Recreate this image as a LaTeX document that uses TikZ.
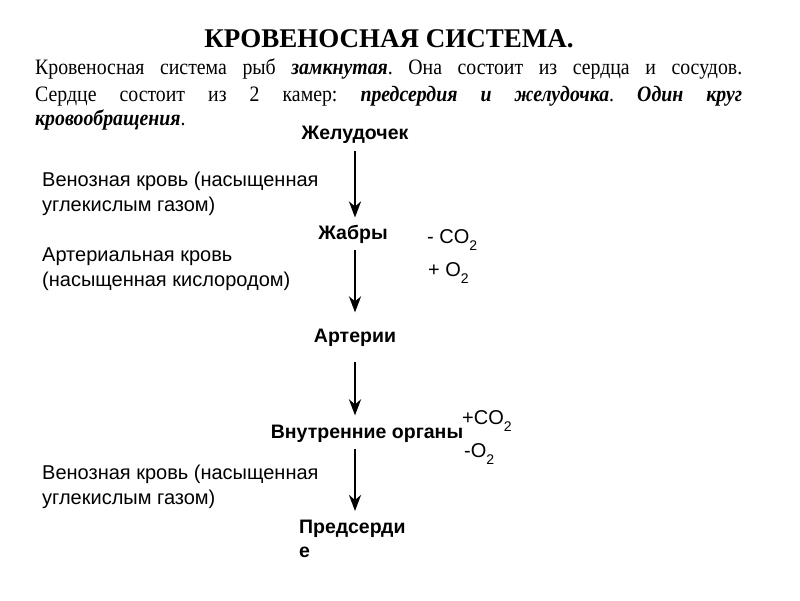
\documentclass[tikz,border=0pt]{standalone}
\usepackage{fontspec}
\setmainfont{Liberation Serif}
\setsansfont{Liberation Sans}
\newfontfamily\bodyfont[FakeStretch=0.9]{Liberation Serif}
\usetikzlibrary{arrows.meta}
\newcommand{\sub}[1]{\raisebox{-7pt}{\fontsize{14}{14}\selectfont #1}}
\frenchspacing
\tikzset{
  title/.style={font=\fontsize{27}{30}\selectfont\bfseries, inner sep=0pt},
  para/.style={font=\bodyfont\fontsize{22}{24}\selectfont, inner sep=0pt, anchor=base west},
  stage/.style={font=\sffamily\bfseries\fontsize{19.5}{24}\selectfont, inner sep=0pt},
  note/.style={font=\sffamily\fontsize{20}{24.5}\selectfont, inner sep=0pt, align=left, anchor=north west},
  gas/.style={font=\sffamily\fontsize{20}{22}\selectfont, inner sep=0pt, anchor=base west},
  flow/.style={line width=2.6pt, -{Stealth[length=16pt,width=12pt,inset=5pt]}}
}
\begin{document}
\begin{tikzpicture}[x=1pt,y=-1pt]
\useasboundingbox (0,0) rectangle (800,600);
\coordinate (axis) at (355,0);
\node[title, anchor=base] (title) at (389,47) {КРОВЕНОСНАЯ СИСТЕМА.};
\node[para] (p1) at (35,74) {\makebox[707pt][s]{Кровеносная система рыб \textbf{\textit{замкнутая}}. Она состоит из сердца и сосудов.}};
\node[para] (p2) at (35,101) {\makebox[707pt][s]{Сердце состоит из 2 камер: \textbf{\textit{предсердия и желудочка}}. \textbf{\textit{Один круг}}}};
\node[para] (p3) at (35,125) {\textbf{\textit{кровообращения}}.};

\node[stage, anchor=base] (n1) at (355,139) {Желудочек};
\node[stage, anchor=base] (n2) at (353,239) {Жабры};
\node[stage, anchor=base] (n3) at (355,342) {Артерии};
\node[stage, anchor=base] (n4) at (367,438) {Внутренние органы};
\node[stage, anchor=north west, align=left] (n5) at (299,520) {Предсерди\\е};

\node[note] (v1) at (42,172) {Венозная кровь (насыщенная\\углекислым газом)};
\node[note] (a1) at (42,248) {Артериальная кровь\\(насыщенная кислородом)};
\node[note] (v2) at (42,465) {Венозная кровь (насыщенная\\углекислым газом)};

\node[gas] (g1) at (427,243) {- CO\sub{2}};
\node[gas] (g2) at (428,276) {+ O\sub{2}};
\node[gas] (g3) at (462,424) {+CO\sub{2}};
\node[gas] (g4) at (464,457) {-O\sub{2}};

\draw[flow] ([yshift=-8pt]n1.south -| axis) -- ([yshift=7pt]n2.north -| axis);
\draw[flow] ([yshift=-7pt]n2.south -| axis) -- ([yshift=16pt]n3.north -| axis);
\draw[flow] ([yshift=-16pt]n3.south -| axis) -- ([yshift=9pt]n4.north -| axis);
\draw[flow] ([yshift=-7pt]n4.south -| axis) -- ([yshift=9pt]n5.north -| axis);
\end{tikzpicture}
\end{document}
